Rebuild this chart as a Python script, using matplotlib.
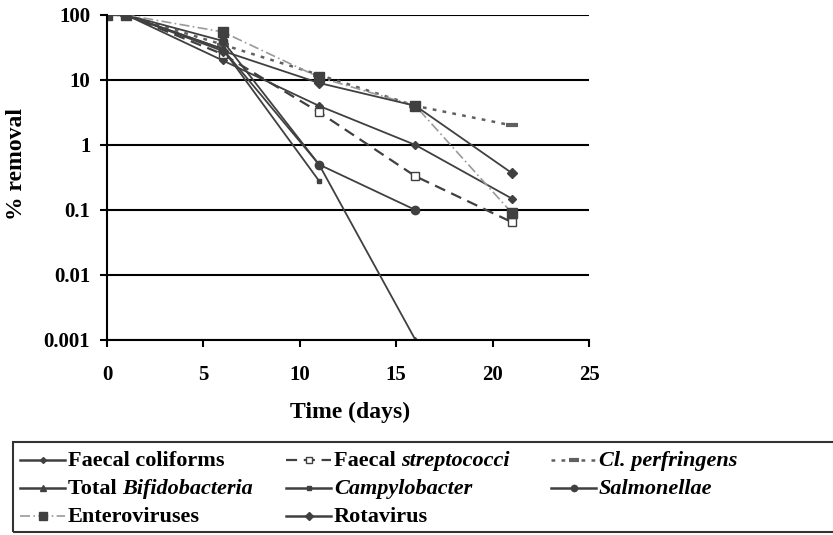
import numpy as np
import matplotlib
matplotlib.use("Agg")
import matplotlib.pyplot as plt
from matplotlib.patches import Rectangle
from matplotlib.lines import Line2D

plt.rcParams['font.family'] = ['Liberation Serif', 'DejaVu Serif']
plt.rcParams['font.weight'] = 'bold'

days = [0, 1, 6, 11, 16, 21]
nan = np.nan
faecal_coliforms = [100, 100, 20, 4, 1, 0.15]
faecal_streptococci = [100, 100, 25, 3.2, 0.33, 0.065]
cl_perfringens = [100, 100, 35, 12, 4, 2]
total_bifidobacteria = [100, 100, 30, 0.5, 0.001, nan]
campylobacter = [100, 100, 30, 0.28, nan, nan]
salmonellae = [100, 100, 40, 0.5, 0.1, nan]
enteroviruses = [100, 100, 55, 11, 4, 0.09]
rotavirus = [100, 100, 28, 9, 4, 0.37]

# legend labels: list of (text, italic?) pieces
labels = [
    [("Faecal coliforms", False)],
    [("Faecal ", False), ("streptococci", True)],
    [("Cl. perfringens", True)],
    [("Total ", False), ("Bifidobacteria", True)],
    [("Campylobacter", True)],
    [("Salmonellae", True)],
    [("Enteroviruses", False)],
    [("Rotavirus", False)],
]

yticks = [100, 10, 1, 0.1, 0.01, 0.001]
ytick_labels = ["100", "10", "1", "0.1", "0.01", "0.001"]
xticks = [0, 5, 10, 15, 20, 25]

W, H = 833, 535
fig = plt.figure(figsize=(W / 100, H / 100), dpi=100)
ax = fig.add_axes([107 / W, 1 - 340 / H, (589 - 107) / W, (340 - 15) / H])

dk = '#404040'
styles = [
    dict(color=dk, ls='-', marker='D', ms=4),
    dict(color=dk, ls=(0, (5, 3)), lw=1.6, marker='s', ms=6, mfc='white'),
    dict(color='#606060', ls=(0, (1.5, 2.5)), lw=1.8, marker='_', ms=9, mew=3),
    dict(color=dk, ls='-', marker='^', ms=5),
    dict(color=dk, ls='-', marker='s', ms=3),
    dict(color=dk, ls='-', marker='o', ms=6),
    dict(color='#9a9a9a', ls=(0, (6, 2, 1, 2)), lw=1.2, marker='s', ms=7, mfc='#404040', mec='#404040'),
    dict(color=dk, ls='-', marker='D', ms=5),
]
data = [faecal_coliforms, faecal_streptococci, cl_perfringens, total_bifidobacteria,
        campylobacter, salmonellae, enteroviruses, rotavirus]

for yv, lab, st in zip(data, labels, styles):
    kw = dict(lw=1.3)
    kw.update(st)
    ax.plot(days, yv, label="".join(p for p, _ in lab), **kw)

ax.set_yscale('log')
ax.set_ylim(0.001, 100)
ax.set_xlim(0, 25)
ax.set_yticks(yticks)
ax.set_yticklabels(ytick_labels)
ax.minorticks_off()
ax.set_xticks(xticks)
for yv in yticks:
    ax.axhline(yv, color='black', lw=1.5, zorder=0)
ax.spines['top'].set_visible(False)
ax.spines['right'].set_visible(False)
ax.spines['left'].set_linewidth(1.5)
ax.spines['bottom'].set_linewidth(1.5)
ax.tick_params(axis='both', direction='out', length=5, width=1.5, labelsize=15)
ax.tick_params(axis='x', pad=13)
ax.tick_params(axis='y', pad=7)
ax.set_xlabel("Time (days)", fontsize=17, fontweight='bold')
ax.set_ylabel("% removal", fontsize=17, fontweight='bold')
ax.xaxis.set_label_coords(0.505, -0.19)
ax.yaxis.set_label_coords(-0.165, 0.54)

# legend: drawn manually, filled row-wise like the original
col_x = [20, 286, 551]
row_y = [460, 488, 516]
handle_len = 45
renderer = fig.canvas.get_renderer()
for i, (lab, st) in enumerate(zip(labels, styles)):
    r, c = divmod(i, 3)
    x0 = col_x[c]
    yc = row_y[r]
    kw = dict(lw=1.8)
    kw.update(st)
    kw['ms'] = max(3, kw.get('ms', 4) * 0.75)
    xs = [x0 / W, (x0 + handle_len / 2) / W, (x0 + handle_len) / W]
    ys = [1 - yc / H] * 3
    fig.add_artist(Line2D(xs, ys, transform=fig.transFigure, markevery=[1], **kw))
    tx = (x0 + handle_len + 3)
    for piece, ital in lab:
        t = fig.text(tx / W, 1 - (yc + 6) / H, piece, fontsize=16, fontweight='bold',
                     fontstyle='italic' if ital else 'normal', va='baseline', ha='left')
        bb = t.get_window_extent(renderer)
        tx = bb.x1

fig.add_artist(Rectangle((13 / W, 1 - 532 / H), (840 - 13) / W, (532 - 442) / H,
                         transform=fig.transFigure, fill=False, lw=1.5,
                         edgecolor='#333333', clip_on=False))

fig.savefig("out.png", dpi=100)
